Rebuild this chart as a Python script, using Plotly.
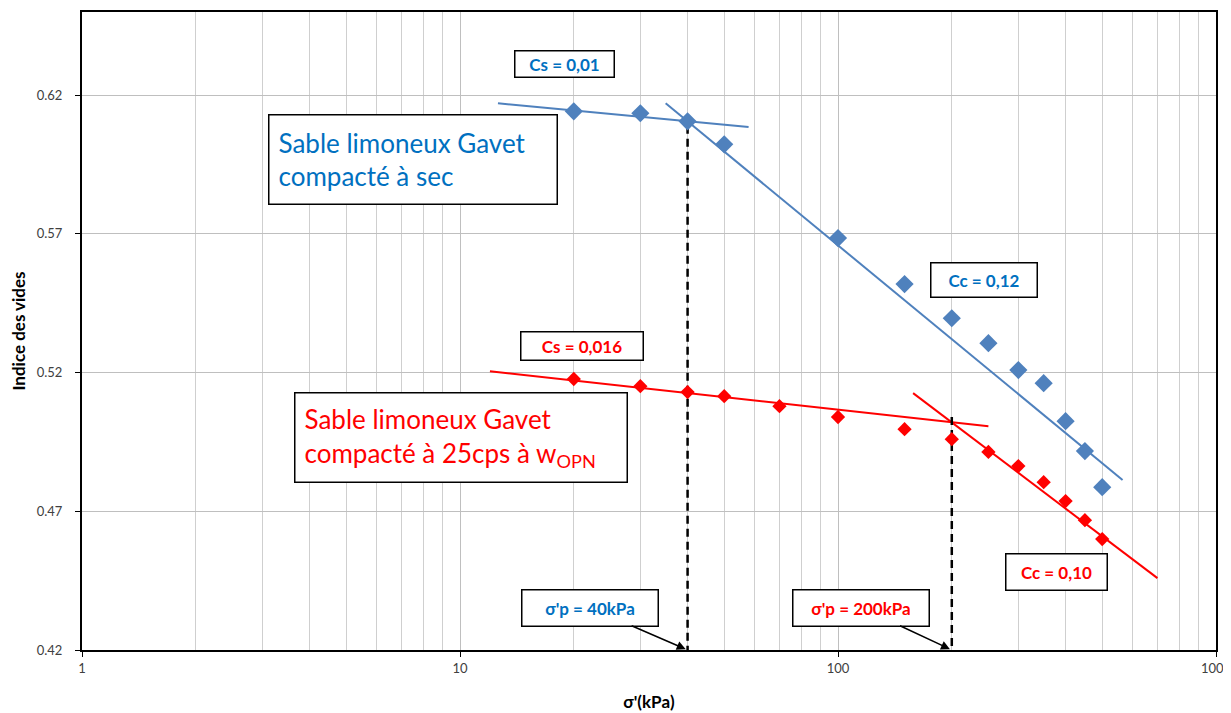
import math
import plotly.graph_objects as go

# e-log(sigma') oedometer data
stress_sec = [20, 30, 40, 50, 100, 150, 200, 250, 300, 350, 400, 450, 500]
e_sec = [0.6142, 0.6135, 0.6106, 0.6023, 0.5685, 0.5519, 0.5396, 0.5306,
         0.5209, 0.5162, 0.5025, 0.4917, 0.4787]

stress_opn = [20, 30, 40, 50, 70, 100, 150, 200, 250, 300, 350, 400, 450, 500]
e_opn = [0.5177, 0.5151, 0.5130, 0.5115, 0.5079, 0.5040, 0.4996, 0.4960,
         0.4914, 0.4863, 0.4805, 0.4737, 0.4668, 0.4600]

# trend lines (Cs / Cc)
cs_sec_x, cs_sec_y = [12.6, 58], [0.6171, 0.6085]
cc_sec_x, cc_sec_y = [35, 566], [0.6171, 0.4813]
cs_opn_x, cs_opn_y = [12, 250], [0.5205, 0.5007]
cc_opn_x, cc_opn_y = [158, 700], [0.5126, 0.4459]

# preconsolidation stresses
sigma_p = [40, 200]
sigma_p_top = [0.609, 0.504]

BLUE_PT = '#4F81BD'
BLUE_TXT = '#0070C0'
RED = '#FF0000'
FONT = 'Lato'

fig = go.Figure()

for x, y, c in [(cs_sec_x, cs_sec_y, BLUE_PT), (cc_sec_x, cc_sec_y, BLUE_PT),
                (cs_opn_x, cs_opn_y, RED), (cc_opn_x, cc_opn_y, RED)]:
    fig.add_trace(go.Scatter(x=x, y=y, mode='lines',
                             line=dict(color=c, width=2), hoverinfo='skip'))

for sp, top in zip(sigma_p, sigma_p_top):
    fig.add_trace(go.Scatter(x=[sp, sp], y=[top, 0.42], mode='lines',
                             line=dict(color='black', width=2.5, dash='8px,5px')))

fig.add_trace(go.Scatter(x=stress_sec, y=e_sec, mode='markers',
                         marker=dict(symbol='diamond', size=14, color=BLUE_PT)))
fig.add_trace(go.Scatter(x=stress_opn, y=e_opn, mode='markers',
                         marker=dict(symbol='diamond', size=11, color=RED)))


def box(xc, yc, w, h, text, color, size, bold=True, align='center', pad=0):
    if bold:
        text = '<b>' + text + '</b>'
    fig.add_annotation(
        x=xc, y=yc, xref='paper', yref='paper', text=text, showarrow=False,
        xanchor='center', yanchor='middle', width=w - 2 - 2 * pad,
        height=h - 2 - 2 * pad, align=align, borderpad=pad,
        bordercolor='black', borderwidth=1.5, bgcolor='white',
        font=dict(family=FONT, size=size, color=color))


# plot area on screen: x 82..1216, y 12..650 (px)
X0, XW = 82, 1134


def px(x, y):
    return (x - X0) / XW, (650 - y) / 638


box(*px(564, 64.5), 100, 27, 'Cs = 0,01', BLUE_TXT, 17)
box(*px(412.5, 159), 289, 90, 'Sable limoneux Gavet<br>compacté à sec',
    BLUE_TXT, 26, bold=False, align='left', pad=9)
box(*px(983.5, 280.5), 107, 35, 'Cc = 0,12', BLUE_TXT, 17)
box(*px(581.5, 345.5), 123, 29, 'Cs = 0,016', RED, 17)
box(*px(460.5, 437), 333, 90,
    'Sable limoneux Gavet<br>compacté à 25cps à w<sub>OPN</sub>',
    RED, 26, bold=False, align='left', pad=9)
box(*px(1056, 571.5), 102, 37, 'Cc = 0,10', RED, 17)

# callouts pointing at sigma'p on the x axis
for sp, label, color, cx in [(40, "σ'p = 40kPa", BLUE_TXT, 589.5),
                             (200, "σ'p = 200kPa", RED, 861)]:
    tip = X0 + XW / 3 * math.log10(sp)
    fig.add_annotation(
        x=math.log10(sp), y=0.42, xref='x', yref='y',
        text='<b>' + label + '</b>', showarrow=True,
        ax=cx - tip, ay=607.5 - 650, arrowhead=2, arrowsize=1.2,
        arrowwidth=1.5, arrowcolor='black', standoff=2,
        width=135, height=35, borderpad=0, bordercolor='black',
        borderwidth=1.5, bgcolor='white',
        font=dict(family=FONT, size=17, color=color))

# page body adds an 8px offset, so margins are shifted by 8px
fig.update_layout(
    width=1231, height=713,
    paper_bgcolor='white', plot_bgcolor='white',
    showlegend=False,
    margin=dict(l=74, r=23, t=4, b=71, autoexpand=False),
    font=dict(family=FONT, color='#404040', size=13),
    xaxis=dict(
        type='log', range=[0, 3], dtick=1, automargin=False,
        showgrid=True, gridcolor='#BFBFBF', gridwidth=1,
        minor=dict(dtick='D1', showgrid=True, gridcolor='#CFCFCF', ticks=''),
        showline=True, linecolor='black', linewidth=2, mirror=True,
        ticks='outside', ticklen=5, tickcolor='black',
        zeroline=False,
        title=dict(text="<b>σ'(kPa)</b>", standoff=22,
                   font=dict(family=FONT, size=17, color='black')),
    ),
    yaxis=dict(
        range=[0.42, 0.65], tick0=0.42, dtick=0.05, tickformat='.2f',
        automargin=False, ticklabelstandoff=10,
        showgrid=True, gridcolor='#BFBFBF', gridwidth=1,
        showline=True, linecolor='black', linewidth=2, mirror=True,
        ticks='outside', ticklen=5, tickcolor='black',
        zeroline=False,
        title=dict(text='<b>Indice des vides</b>', standoff=10,
                   font=dict(family=FONT, size=17, color='black')),
    ),
)

fig.write_html("out.html")
